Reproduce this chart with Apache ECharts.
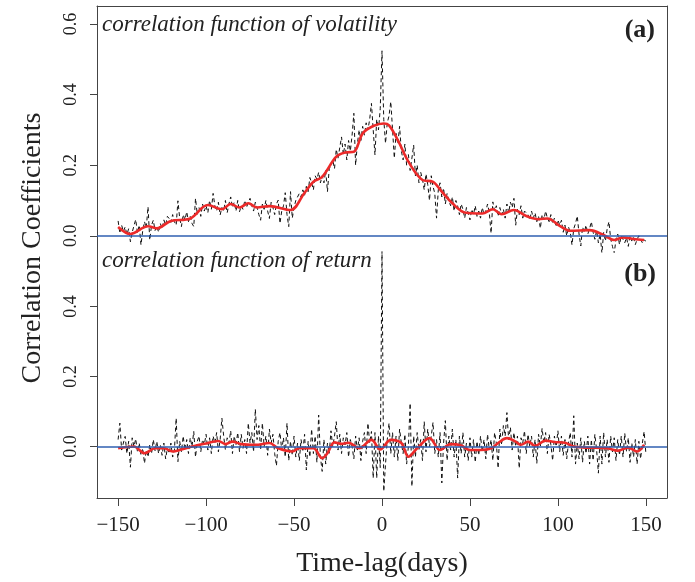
<!DOCTYPE html>
<html><head><meta charset="utf-8">
<script src="https://cdn.jsdelivr.net/npm/echarts@6/dist/echarts.min.js"></script>
<style>html,body{margin:0;padding:0;background:#fff}#c{width:695px;height:582px}</style>
</head><body><div id="c"></div>
<script>
const LAG_START = -150;
const volRaw = [
0.042,0.007,0.030,0.012,0.025,0.004,0.020,-0.017,0.010,0.028,
0.046,0.008,0.030,-0.026,0.015,0.040,0.022,0.082,-0.012,0.030,
0.044,0.015,0.028,0.010,0.035,0.020,0.045,0.030,0.055,0.049,
0.038,0.060,0.040,0.030,0.099,0.050,0.026,0.060,0.045,0.068,
0.040,0.055,0.035,0.026,0.106,0.060,0.080,0.055,0.090,0.070,
0.085,0.065,0.100,0.075,0.120,0.085,0.070,0.095,0.059,0.080,
0.070,0.100,0.065,0.090,0.110,0.080,0.095,0.070,0.100,0.068,
0.085,0.075,0.100,0.080,0.095,0.106,0.085,0.070,0.095,0.080,
0.060,0.044,0.090,0.075,0.100,0.070,0.049,0.095,0.080,0.060,
0.090,0.101,0.035,0.070,0.085,0.122,0.060,0.026,0.125,0.050,
0.080,0.100,0.095,0.120,0.110,0.130,0.115,0.140,0.125,0.165,
0.150,0.130,0.170,0.160,0.180,0.150,0.170,0.150,0.185,0.125,
0.190,0.200,0.215,0.190,0.245,0.220,0.250,0.280,0.230,0.260,
0.215,0.270,0.240,0.285,0.347,0.200,0.260,0.300,0.270,0.310,
0.285,0.320,0.300,0.330,0.375,0.300,0.229,0.330,0.300,0.360,
0.524,0.330,0.262,0.320,0.340,0.380,0.300,0.220,0.290,0.260,
0.310,0.240,0.215,0.260,0.200,0.230,0.185,0.220,0.257,0.170,
0.200,0.150,0.180,0.160,0.130,0.175,0.145,0.100,0.170,0.140,
0.120,0.050,0.130,0.150,0.110,0.135,0.090,0.120,0.100,0.085,
0.110,0.070,0.100,0.085,0.060,0.090,0.075,0.050,0.080,0.065,
0.045,0.075,0.060,0.085,0.055,0.070,0.050,0.080,0.060,0.070,
0.090,0.065,0.007,0.096,0.070,0.085,0.055,0.080,0.060,0.075,
0.050,0.090,0.065,0.095,0.080,0.106,0.030,0.075,0.060,0.085,
0.050,0.070,0.068,0.060,0.045,0.070,0.050,0.065,0.040,0.055,
0.021,0.060,0.045,0.070,0.050,0.040,0.060,0.035,0.050,0.025,
0.045,0.030,0.044,0.010,0.030,0.000,0.025,0.010,-0.026,0.020,
0.035,0.056,0.005,-0.029,0.025,0.010,0.030,0.005,0.020,0.040,
0.010,-0.010,0.015,-0.020,0.005,-0.050,0.010,-0.015,0.020,0.040,
-0.010,-0.030,-0.050,-0.010,0.005,-0.025,0.000,0.005,-0.020,-0.005,
-0.030,0.000,-0.015,-0.005,-0.025,-0.010,0.000,0.005,-0.020,-0.012,-0.015
];
const volSmoothLag = [-150,-143,-133,-128,-120,-109,-99,-91,-86,-81,-76,-71,-64,-52,-44,-39,-34,-26,-21,-16,-11,-5,1,4,9,15,23,29,34,40,47,57,63,68,75,82,89,94,101,107,118,126,132,137,143,149];
const volSmooth = [0.025,0.005,0.027,0.021,0.042,0.049,0.087,0.075,0.09,0.08,0.092,0.08,0.084,0.073,0.122,0.153,0.167,0.224,0.236,0.238,0.29,0.311,0.318,0.313,0.271,0.21,0.158,0.153,0.125,0.092,0.066,0.063,0.075,0.061,0.073,0.056,0.047,0.049,0.028,0.014,0.016,0.002,-0.012,-0.005,-0.009,-0.012];
const retRaw = [
0.020,0.067,-0.010,0.010,0.029,-0.020,0.015,-0.059,0.025,0.000,
0.022,-0.015,0.010,-0.025,-0.005,-0.048,-0.010,-0.030,0.005,-0.020,
0.020,-0.012,0.015,-0.020,0.005,-0.025,0.010,-0.035,-0.005,-0.020,
0.010,-0.030,-0.010,0.081,-0.043,0.015,-0.015,0.030,-0.010,0.020,
-0.020,0.025,0.000,0.043,-0.030,0.015,0.030,-0.015,0.020,0.005,
0.035,-0.010,0.025,-0.020,0.030,0.010,0.040,-0.015,0.020,0.081,
0.030,-0.010,0.025,0.010,0.045,-0.020,0.030,0.005,0.040,-0.015,
0.035,-0.005,0.020,-0.020,0.067,0.010,0.040,-0.015,0.107,0.020,
0.060,-0.010,0.067,0.000,0.030,-0.025,0.050,0.010,0.035,-0.020,
-0.055,0.015,0.040,-0.010,0.025,-0.030,0.067,-0.040,0.015,-0.025,
0.030,-0.030,0.010,-0.040,0.020,-0.015,0.035,-0.067,0.015,-0.030,
0.050,-0.020,0.030,-0.045,0.090,-0.030,-0.071,0.020,-0.050,0.010,
-0.020,0.045,0.000,0.030,0.071,-0.010,0.035,-0.020,0.025,0.005,
0.040,-0.030,0.020,0.000,-0.035,0.030,-0.010,0.025,-0.040,0.015,
0.040,-0.020,0.067,0.010,0.043,-0.090,0.040,-0.090,0.030,-0.060,
0.560,-0.128,-0.050,0.020,0.067,-0.020,0.040,-0.030,0.030,-0.040,
0.050,0.010,-0.020,0.035,-0.050,0.000,0.124,-0.114,0.030,-0.030,
0.040,-0.010,0.020,-0.040,0.071,-0.015,0.050,0.000,0.030,0.069,
-0.020,0.020,-0.030,0.040,-0.104,0.010,0.074,-0.040,0.030,-0.010,
0.050,-0.030,0.020,-0.090,0.030,-0.020,0.040,-0.030,0.010,-0.040,
0.025,-0.030,0.020,-0.045,0.015,-0.025,0.030,-0.015,0.020,-0.035,
0.035,-0.010,0.020,-0.040,0.040,0.010,-0.062,0.050,0.005,0.060,
0.030,0.097,0.020,0.055,-0.010,0.040,0.000,0.030,-0.062,0.025,
0.010,0.045,-0.020,0.035,0.000,0.030,-0.030,0.020,-0.048,0.035,
0.000,0.052,0.010,0.040,-0.020,0.035,0.005,-0.040,0.030,0.000,
0.045,-0.015,0.030,-0.025,0.020,-0.035,0.010,0.040,-0.030,0.088,
-0.050,0.010,-0.035,0.025,-0.045,0.015,-0.020,0.030,-0.050,0.020,
-0.040,0.035,-0.010,-0.076,0.030,-0.050,0.040,-0.030,0.020,-0.045,
0.030,-0.015,0.025,-0.040,0.020,-0.025,0.030,-0.030,0.038,-0.015,
0.025,-0.045,0.010,-0.030,0.020,-0.050,0.015,-0.035,0.010,0.043,-0.020
];
const retSmoothLag = [-150,-141,-135,-129,-124,-119,-115,-108,-101,-93,-89,-85,-80,-72,-64,-59,-51,-47,-39,-34,-31,-27,-23,-19,-13,-6,-1,5,11,15,20,27,33,39,45,50,56,62,66,71,76,79,83,87,93,98,104,109,116,128,134,140,145,149];
const retSmooth = [-0.005,0,-0.019,-0.005,-0.005,-0.014,-0.01,0,0.008,0.016,0.007,0.014,0.007,0.005,0.01,-0.005,-0.014,-0.005,-0.005,-0.033,-0.019,0.012,0.008,0.011,-0.005,0.019,-0.008,0.019,0.01,-0.029,-0.005,0.024,-0.01,0.007,0.003,-0.01,-0.01,-0.005,0.01,0.024,0.014,0.005,0.014,0.002,0.017,0.013,0.011,0,-0.003,-0.005,-0.012,-0.003,-0.014,0.005];
const xTicks = [-150,-100,-50,0,50,100,150];
const yTicksA = [0,0.2,0.4,0.6];
const yTicksB = [0,0.2,0.4];

const FONT = '"Liberation Serif","Times New Roman",serif';
const BOX = '#444';
const rawPairs = arr => arr.map((v,i)=>[LAG_START+i, v]);
const pairs = (xs, ys) => xs.map((x,i)=>[x, ys[i]]);
const minus = v => v < 0 ? '\u2212' + Math.abs(v) : String(v);

const chart = echarts.init(document.getElementById('c'), null, {renderer:'canvas'});
const yLeft = (grid, min, max, ticks) => ({
  type:'value', gridIndex:grid, min, max, position:'left',
  axisLine:{show:true, onZero:false, lineStyle:{color:BOX, width:1}},
  axisTick:{show:true, inside:false, length:7, customValues:ticks, lineStyle:{color:BOX}},
  axisLabel:{show:true, customValues:ticks, rotate:90, margin:17, fontFamily:FONT, fontSize:18, color:'#222', formatter:v=>v.toFixed(1)},
  splitLine:{show:false}
});
const yRight = (grid, min, max) => ({
  type:'value', gridIndex:grid, min, max, position:'right',
  axisLine:{show:true, onZero:false, lineStyle:{color:BOX, width:1}},
  axisTick:{show:false}, axisLabel:{show:false}, splitLine:{show:false}
});
const zeroLine = {silent:true, symbol:'none', label:{show:false}, lineStyle:{color:'#2f5fb0', width:1.6, type:'solid'}, data:[{yAxis:0}]};
const rawStyle = {color:'#111', width:1, type:[4,3]};
const smoothStyle = {color:'#ec2a2a', width:2.6};

chart.setOption({
  animation:false,
  grid:[
    {left:97, right:28, top:6, height:246},
    {left:97, right:28, top:252, height:246}
  ],
  xAxis:[
    {type:'value', gridIndex:0, min:-162, max:162, position:'top',
     axisLine:{show:true, onZero:false, lineStyle:{color:BOX}}, axisTick:{show:false}, axisLabel:{show:false}, splitLine:{show:false}},
    {type:'value', gridIndex:1, min:-162, max:162, position:'bottom',
     axisLine:{show:true, onZero:false, lineStyle:{color:BOX}},
     axisTick:{show:true, inside:false, length:8, customValues:xTicks, lineStyle:{color:BOX}},
     axisLabel:{show:true, customValues:xTicks, margin:17, fontFamily:FONT, fontSize:21, color:'#222', formatter:minus},
     splitLine:{show:false},
     name:'Time-lag(days)', nameLocation:'middle', nameGap:52,
     nameTextStyle:{fontFamily:FONT, fontSize:28, color:'#222'}}
  ],
  yAxis:[
    yLeft(0, -0.046, 0.651, yTicksA), yRight(0, -0.046, 0.651),
    yLeft(1, -0.147, 0.556, yTicksB), yRight(1, -0.147, 0.556)
  ],
  series:[
    {type:'line', xAxisIndex:0, yAxisIndex:0, data:rawPairs(volRaw), symbol:'none', lineStyle:rawStyle, markLine:zeroLine, z:2},
    {type:'line', xAxisIndex:0, yAxisIndex:0, data:pairs(volSmoothLag, volSmooth), symbol:'none', smooth:0.35, lineStyle:smoothStyle, z:4},
    {type:'line', xAxisIndex:1, yAxisIndex:2, data:rawPairs(retRaw), symbol:'none', lineStyle:rawStyle, markLine:zeroLine, z:2},
    {type:'line', xAxisIndex:1, yAxisIndex:2, data:pairs(retSmoothLag, retSmooth), symbol:'none', smooth:0.35, lineStyle:smoothStyle, z:4}
  ],
  graphic:[
    {type:'text', x:33, y:248, rotation:Math.PI/2, style:{text:'Correlation Coefficients', font:'28px '+FONT, fill:'#222', textAlign:'center', textVerticalAlign:'middle'}},
    {type:'text', x:102, y:25, style:{text:'correlation function of volatility', font:'italic 23px '+FONT, fill:'#222', textAlign:'left', textVerticalAlign:'middle'}},
    {type:'text', x:655, y:30, style:{text:'(a)', font:'bold 26px '+FONT, fill:'#222', textAlign:'right', textVerticalAlign:'middle'}},
    {type:'text', x:102, y:261, style:{text:'correlation function of return', font:'italic 23px '+FONT, fill:'#222', textAlign:'left', textVerticalAlign:'middle'}},
    {type:'text', x:656, y:274, style:{text:'(b)', font:'bold 26px '+FONT, fill:'#222', textAlign:'right', textVerticalAlign:'middle'}}
  ]
});
</script></body></html>
